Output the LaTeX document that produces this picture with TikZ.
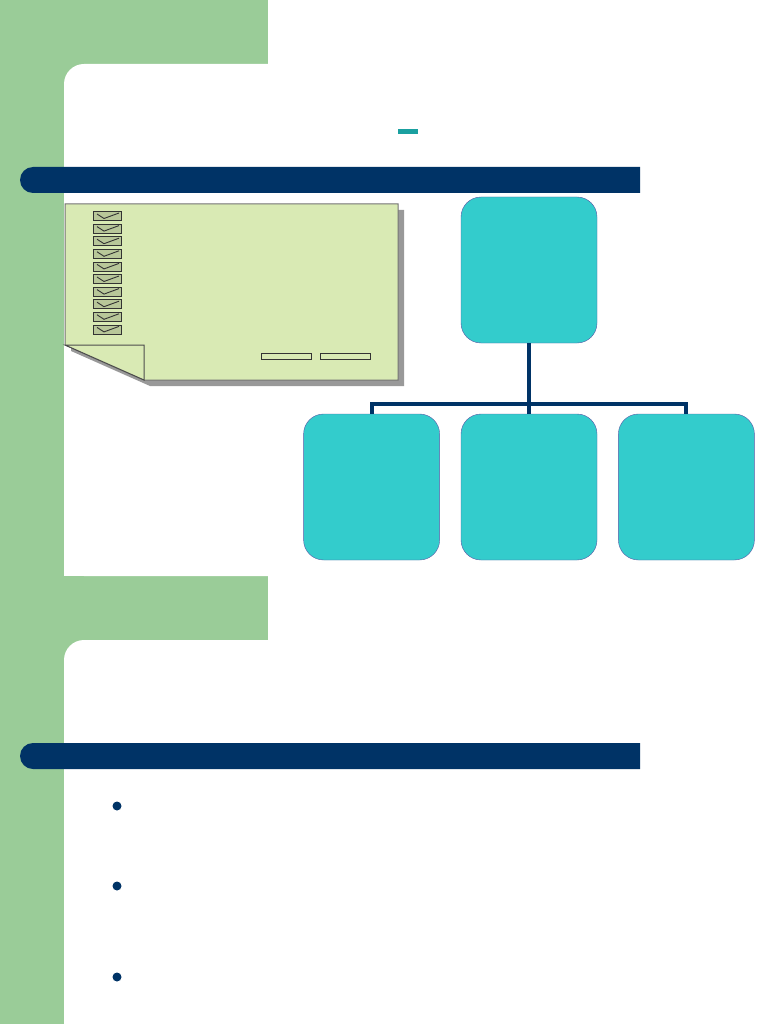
\documentclass[tikz,border=0pt]{standalone}
\usepackage{tikz}
\usetikzlibrary{positioning}

\definecolor{sidegreen}{HTML}{9ACC98}
\definecolor{navy}{HTML}{003366}
\definecolor{boxteal}{HTML}{33CCCC}
\definecolor{notefill}{HTML}{D9EAB4}
\definecolor{dashteal}{HTML}{1AA0A0}

\tikzset{
  orgbox/.style={draw=gray!70!blue, fill=boxteal, rounded corners=20pt,
    minimum width=136pt, minimum height=146pt, inner sep=0pt},
  link/.style={draw=navy, line width=4pt},
  titlebar/.style={fill=navy},
  tickbox/.style={draw=black!80, fill=notefill!85!black, line width=0.8pt},
}

\begin{document}
\begin{tikzpicture}[x=1pt,y=-1pt,node distance=21pt]
\clip (0,0) rectangle (768,1024);
\useasboundingbox (0,0) rectangle (768,1024);
\fill[white] (0,0) rectangle (768,1024);

% green side strip and panels
\fill[sidegreen] (0,0) rectangle (64,1024);
\fill[sidegreen] (0,0) rectangle (268,90);
\fill[sidegreen] (0,576) rectangle (268,666);
\fill[white, rounded corners=20pt] (64,64) rectangle (820,576);
\fill[white, rounded corners=20pt] (64,640) rectangle (820,1100);

% title bars
\fill[titlebar] (640,167) -- (640,193) [rounded corners=13pt] -- (20,193) -- (20,167) [sharp corners] -- cycle;
\fill[titlebar] (640,743) -- (640,769) [rounded corners=13pt] -- (20,769) -- (20,743) [sharp corners] -- cycle;

% small dash
\fill[dashteal] (398,129) rectangle (418,134);

% note sheet
\fill[gray!80] (71,210) -- (404,210) -- (404,386) -- (150,386) -- (71,351) -- cycle;
\draw[gray!90!black, line width=1pt, fill=notefill] (65,204) -- (398,204) -- (398,380) -- (144,380) -- (65,345) -- cycle;
\draw[gray!60!black, line width=1pt, fill=notefill] (65,345) -- (144,345) -- (144,380) -- cycle;
\foreach \y in {216,228.6,241.2,253.8,266.4,279,291.6,304.2,316.8,329.4} {
  \draw[tickbox] (93,\y-4.5) rectangle (121,\y+4.5);
  \draw[black!80, line width=0.9pt] (97,\y-2) -- (104,\y+2.5) -- (119,\y-3);
}
\draw[black!80, fill=notefill] (261,353) rectangle (311,359);
\draw[black!80, fill=notefill] (320,353) rectangle (370,359);

% org chart
\node[orgbox] (head) at (529,270) {};
\node[orgbox] (mid) at (529,487) {};
\node[orgbox, left=of mid] (lft) {};
\node[orgbox, right=of mid] (rgt) {};
\coordinate (bus) at (529,404);
\draw[link] (head.south) -- (bus);
\draw[link] (bus) -- (mid.north);
\draw[link] (lft.north) |- (bus) -| (rgt.north);

% bullets
\foreach \y in {806,886,977}
  \fill[navy] (117,\y) circle (4.5pt);
\end{tikzpicture}
\end{document}
